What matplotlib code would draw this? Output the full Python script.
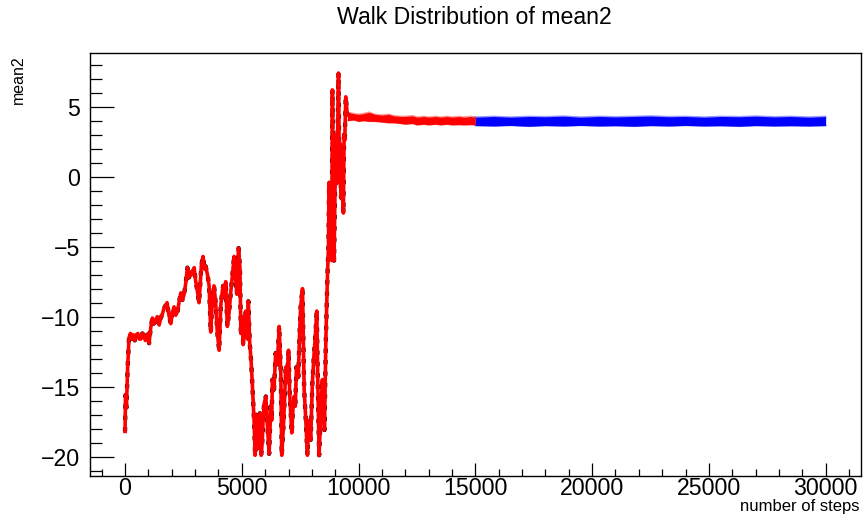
import matplotlib
matplotlib.use('Agg')
import matplotlib.pyplot as plt
from matplotlib.ticker import MultipleLocator

plt.rcParams['font.family'] = ['Liberation Sans', 'DejaVu Sans']

# walk of mean2 (burn-in part, drawn in red)
walk_steps = [0, 20, 60, 110, 170, 230, 300, 360, 420, 480, 550, 610, 680, 740, 800, 870, 930, 980, 1030,
              1100, 1170, 1230, 1300, 1380, 1460, 1530, 1600, 1670, 1740, 1800, 1880, 1960, 2030, 2100, 2170, 2250,
              2320, 2390, 2460, 2530, 2600, 2670, 2740, 2810, 2880, 2960, 3020, 3100, 3170, 3270, 3340, 3400, 3450,
              3530, 3600, 3670, 3740, 3810, 3880, 3950, 4030, 4100, 4150, 4200, 4260, 4310,
              4380, 4450, 4530, 4600, 4670, 4720, 4790, 4860, 4920, 4960, 5010, 5060, 5110, 5170,
              5240, 5280, 5340, 5400, 5450, 5530, 5570, 5600, 5630, 5670, 5710, 5770, 5800, 5830, 5880,
              5920, 5960, 6030, 6100, 6170, 6240, 6280, 6310, 6380, 6450, 6520, 6600, 6670, 6710, 6780,
              6830, 6880, 6940, 7000, 7050, 7140, 7190, 7240, 7290, 7340, 7420, 7470, 7520, 7600, 7670, 7740,
              7810, 7850, 7880, 7950, 8020, 8080, 8140, 8210, 8260, 8310, 8380, 8450, 8500, 8540,
              8600, 8670, 8710, 8740, 8770, 8810, 8850, 8880, 8920, 8950, 8990,
              9030, 9070, 9110, 9140, 9180, 9210, 9250, 9280, 9350, 9380, 9410,
              9450, 9520]
walk_values = [-18.2, -15.6, -16.5, -13.7, -11.5, -11.2, -11.6, -11.3, -11.7, -11.3, -11.2, -11.6, -11.6, -11.2, -11.3, -11.7, -11.5, -11.2, -11.9,
               -10.8, -10.1, -10.5, -10.3, -10.0, -10.6, -10.1, -9.8, -9.4, -9.2, -9.0, -9.9, -10.5, -9.7, -9.3, -9.9, -9.6,
               -8.9, -8.3, -8.8, -8.4, -7.6, -6.5, -7.2, -6.8, -7.0, -6.5, -7.4, -8.2, -9.0, -6.3, -5.7, -6.6, -6.4,
               -7.0, -7.8, -11.1, -8.8, -7.8, -9.0, -11.1, -12.4, -9.2, -8.4, -7.8, -8.6, -7.5,
               -10.7, -9.8, -8.2, -7.0, -5.7, -7.0, -8.4, -5.1, -6.5, -11.2, -10.0, -12.0, -10.6, -9.6,
               -11.6, -8.9, -11.9, -13.2, -14.8, -17.6, -19.9, -17.0, -17.4, -19.4, -17.9, -16.9, -18.4, -19.9, -18.8,
               -17.0, -16.2, -15.7, -17.9, -19.8, -16.4, -17.4, -14.5, -15.2, -12.6, -13.4, -10.7, -14.0, -19.9, -17.9,
               -16.0, -13.6, -14.6, -12.4, -15.5, -18.3, -16.6, -15.7, -16.4, -13.6, -14.3, -11.4, -9.3, -8.0, -15.2, -17.4,
               -19.9, -18.0, -17.4, -18.8, -14.8, -13.0, -11.6, -9.6, -15.2, -19.9, -16.9, -14.5, -16.2, -18.1,
               -11.6, -6.9, -5.0, -0.4, -5.5, -2.0, -6.0, 6.2, -3.0, -6.0, -1.2,
               3.0, -0.5, 3.6, 7.4, 0.0, 2.4, -1.5, 0.5, -2.6, 3.0, 2.6,
               5.7, 4.4]

# settled part of the burn-in (red band)
red_steps = [9520, 9800, 10000, 10200, 10450, 10700, 11000, 11300, 11500, 11800, 12000, 12300, 12500,
             12800, 13000, 13300, 13500, 13800, 14000, 14300, 14500, 14800, 15000]
red_hi = [4.6, 4.5, 4.45, 4.5, 4.6, 4.45, 4.4, 4.45, 4.35, 4.3, 4.3, 4.35, 4.25,
          4.3, 4.25, 4.3, 4.25, 4.3, 4.25, 4.3, 4.25, 4.3, 4.25]
red_lo = [4.0, 4.05, 3.95, 4.0, 3.95, 3.95, 3.9, 3.85, 3.85, 3.8, 3.75, 3.8, 3.7,
          3.75, 3.7, 3.75, 3.7, 3.75, 3.7, 3.72, 3.7, 3.72, 3.7]

# after burn-in (blue band)
blue_steps = [15000, 15800, 16500, 17300, 18000, 18800, 19500, 20300, 21000, 21800, 22500,
              23300, 24000, 24800, 25500, 26300, 27000, 27800, 28500, 29300, 30000]
blue_hi = [4.25, 4.3, 4.25, 4.3, 4.28, 4.32, 4.25, 4.3, 4.27, 4.3, 4.33,
           4.28, 4.3, 4.25, 4.3, 4.28, 4.32, 4.27, 4.3, 4.25, 4.3]
blue_lo = [3.65, 3.62, 3.66, 3.6, 3.65, 3.62, 3.66, 3.62, 3.64, 3.6, 3.65,
           3.62, 3.66, 3.62, 3.64, 3.6, 3.65, 3.62, 3.64, 3.62, 3.65]

fig = plt.figure(figsize=(8.63, 5.14), dpi=100)
ax = fig.add_axes([0.1043, 0.074, 0.893, 0.822])

ax.plot(walk_steps, walk_values, color='black', lw=3.1, ls=':')
ax.plot(walk_steps, walk_values, color='red', lw=2.6)
ax.fill_between(red_steps, red_lo, red_hi, color='red', lw=0)
ax.plot(red_steps, red_hi, color='red', lw=1.2, alpha=0.4)
ax.plot(red_steps, red_lo, color='red', lw=1.2, alpha=0.4)
ax.fill_between(blue_steps, blue_lo, blue_hi, color='blue', lw=0)
ax.plot(blue_steps, blue_hi, color='blue', lw=1.2, alpha=0.4)
ax.plot(blue_steps, blue_lo, color='blue', lw=1.2, alpha=0.4)

ax.set_xlim(-1500, 31500)
ax.set_ylim(-21.38, 8.8)

ax.xaxis.set_major_locator(MultipleLocator(5000))
ax.xaxis.set_minor_locator(MultipleLocator(1000))
ax.yaxis.set_major_locator(MultipleLocator(5))
ax.yaxis.set_minor_locator(MultipleLocator(1))
ax.tick_params(axis='both', which='both', direction='in', top=False, right=False,
               width=0.9, labelsize=16.7)
ax.tick_params(axis='y', which='major', length=17.3, pad=7)
ax.tick_params(axis='y', which='minor', length=8.6)
ax.tick_params(axis='x', which='major', length=9.4, pad=0.5)
ax.tick_params(axis='x', which='minor', length=4.7)
for s in ax.spines.values():
    s.set_linewidth(1.0)

fig.text(0.55, 0.965, 'Walk Distribution of mean2', ha='center', va='center', fontsize=16.7)
fig.text(0.021, 0.893, 'mean2', rotation=90, ha='center', va='top', fontsize=11.5)
fig.text(0.9954, 0.006, 'number of steps', ha='right', va='baseline', fontsize=12)

fig.savefig('out.png', dpi=100)
